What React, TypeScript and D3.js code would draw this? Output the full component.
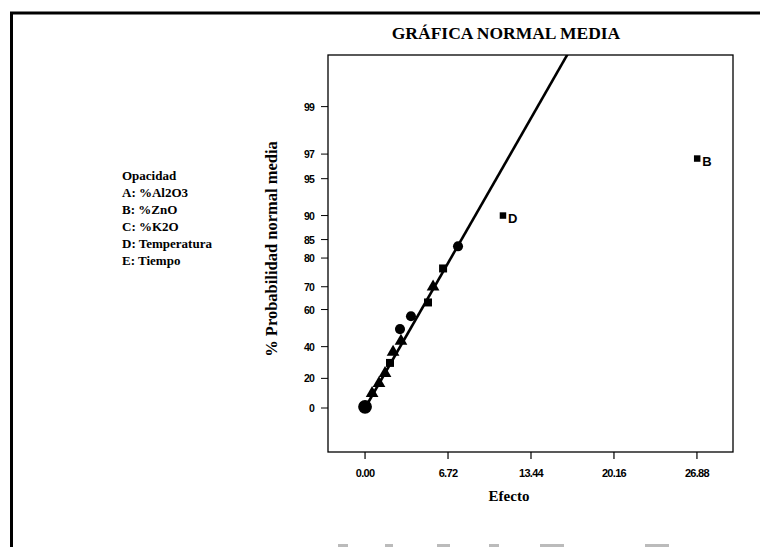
import React from "react";
import * as d3 from "d3";

// ---- data ----
const effects = [0.0, 0.57, 1.13, 1.62, 2.02, 2.27, 2.91, 2.83, 3.72, 5.1, 5.51, 6.32, 7.53, 11.17, 26.9];
const probs = [0.8, 10.0, 16.7, 23.3, 30.0, 36.7, 43.3, 50.0, 56.7, 63.3, 70.0, 76.7, 83.3, 90.0, 96.7];
const shapes = ["circle", "triangle", "triangle", "triangle", "square", "triangle", "triangle", "circle", "circle", "square", "triangle", "square", "circle", "square", "square"];
const pointLabels = ["", "", "", "", "", "", "", "", "", "", "", "", "", "D", "B"];
const lineEffects = [0, 16.4];
const lineProbs = [0, 99.75];
const xTicks = [0, 6.72, 13.44, 20.16, 26.88];
const yTicks = [0, 20, 40, 60, 70, 80, 85, 90, 95, 97, 99];
const legendLines = ["Opacidad", "A: %Al2O3", "B: %ZnO", "C: %K2O", "D: Temperatura", "E: Tiempo"];
const titleText = "GRÁFICA NORMAL MEDIA";
const xTitle = "Efecto";
const yTitle = "% Probabilidad normal media";
// faint scan marks along the bottom edge: [start x, width]
const bottomMarks = [[338, 10], [385, 8], [437, 13], [489, 10], [540, 24], [645, 24]];

// inverse standard normal CDF (Acklam)
function probit(p: number): number {
  const a = [-39.69683028665376, 220.9460984245205, -275.9285104469687, 138.357751867269, -30.66479806614716, 2.506628277459239];
  const b = [-54.47609879822406, 161.5858368580409, -155.6989798598866, 66.80131188771972, -13.28068155288572];
  const c = [-0.007784894002430293, -0.3223964580411365, -2.400758277161838, -2.549732539343734, 4.374664141464968, 2.938163982698783];
  const d = [0.007784695709041462, 0.3224671290700398, 2.445134137142996, 3.754408661907416];
  const pl = 0.02425;
  if (p < pl) {
    const q = Math.sqrt(-2 * Math.log(p));
    return (((((c[0] * q + c[1]) * q + c[2]) * q + c[3]) * q + c[4]) * q + c[5]) / ((((d[0] * q + d[1]) * q + d[2]) * q + d[3]) * q + 1);
  }
  if (p <= 1 - pl) {
    const q = p - 0.5;
    const r = q * q;
    return ((((((a[0] * r + a[1]) * r + a[2]) * r + a[3]) * r + a[4]) * r + a[5]) * q) / (((((b[0] * r + b[1]) * r + b[2]) * r + b[3]) * r + b[4]) * r + 1);
  }
  const q = Math.sqrt(-2 * Math.log(1 - p));
  return -(((((c[0] * q + c[1]) * q + c[2]) * q + c[3]) * q + c[4]) * q + c[5]) / ((((d[0] * q + d[1]) * q + d[2]) * q + d[3]) * q + 1);
}
const halfZ = (pct: number) => probit(0.5 + pct / 200);

const W = 760;
const H = 547;
const plot = { left: 328, right: 733, top: 55, bottom: 452 };

export default function App() {
  const x = d3.scaleLinear().domain([-3.0, 29.8]).range([plot.left, plot.right]);
  const yz = d3.scaleLinear().domain([-0.376, 3.017]).range([plot.bottom, plot.top]);
  const y = (pct: number) => yz(halfZ(pct));

  const lineGen = d3
    .line<number>()
    .x((_, i) => x(lineEffects[i]))
    .y((_, i) => y(lineProbs[i]));

  const serif = "'Liberation Serif', 'Times New Roman', serif";
  const sans = "'Liberation Sans', Arial, sans-serif";

  const symbolPath = (shape: string, i: number) => {
    if (shape === "triangle") return d3.symbol(d3.symbolTriangle, 70)()!;
    if (shape === "square") return d3.symbol(d3.symbolSquare, i >= 13 ? 42 : 64)()!;
    return d3.symbol(d3.symbolCircle, i === 0 ? 150 : 80)()!;
  };

  return (
    <svg
      width={W}
      height={H}
      viewBox={`0 0 ${W} ${H}`}
      style={{ position: "absolute", left: 0, top: 0, background: "#fff" }}
    >
      <defs>
        <clipPath id="plotClip">
          <rect x={plot.left} y={plot.top} width={plot.right - plot.left} height={plot.bottom - plot.top} />
        </clipPath>
      </defs>
      <rect x={0} y={0} width={W} height={H} fill="#fff" />
      {/* page frame */}
      <line x1={10} y1={13} x2={W} y2={13} stroke="#000" strokeWidth={3} />
      <line x1={11.5} y1={12} x2={11.5} y2={H} stroke="#000" strokeWidth={3} />
      {bottomMarks.map(([bx, bw], i) => (
        <rect key={i} x={bx} y={544} width={bw} height={3} fill="#bbb" />
      ))}

      {/* title */}
      <text x={506} y={39} textAnchor="middle" fontFamily={serif} fontWeight="bold" fontSize={17.5}>
        {titleText}
      </text>

      {/* legend */}
      {legendLines.map((t, i) => (
        <text key={t} x={122} y={180 + i * 17} fontFamily={serif} fontWeight="bold" fontSize={13}>
          {t}
        </text>
      ))}

      {/* plot frame */}
      <rect
        x={plot.left}
        y={plot.top}
        width={plot.right - plot.left}
        height={plot.bottom - plot.top}
        fill="none"
        stroke="#000"
        strokeWidth={1.3}
      />

      {/* y ticks */}
      {yTicks.map((t) => (
        <g key={t}>
          <line x1={plot.left - 7} x2={plot.left} y1={y(t)} y2={y(t)} stroke="#000" strokeWidth={1} />
          <text
            x={plot.left - 14}
            y={y(t) + 4}
            textAnchor="end"
            fontFamily={sans}
            fontWeight="bold"
            fontSize={10.5}
            letterSpacing={-0.8}
          >
            {t}
          </text>
        </g>
      ))}

      {/* x ticks */}
      {xTicks.map((t) => (
        <g key={t}>
          <line x1={x(t)} x2={x(t)} y1={plot.bottom} y2={plot.bottom + 7} stroke="#000" strokeWidth={1.2} />
          <text
            x={x(t)}
            y={plot.bottom + 25}
            textAnchor="middle"
            fontFamily={sans}
            fontWeight="bold"
            fontSize={11}
            letterSpacing={-0.7}
          >
            {t.toFixed(2)}
          </text>
        </g>
      ))}

      {/* axis titles */}
      <text x={509} y={501} textAnchor="middle" fontFamily={serif} fontWeight="bold" fontSize={15}>
        {xTitle}
      </text>
      <text
        transform={`translate(277, 249) rotate(-90)`}
        textAnchor="middle"
        fontFamily={serif}
        fontWeight="bold"
        fontSize={16.5}
      >
        {yTitle}
      </text>

      {/* fitted line */}
      <path
        d={lineGen(lineEffects) || ""}
        fill="none"
        stroke="#000"
        strokeWidth={2.6}
        clipPath="url(#plotClip)"
      />

      {/* points */}
      {effects.map((e, i) => (
        <g key={i} transform={`translate(${x(e)}, ${y(probs[i])})`}>
          <path d={symbolPath(shapes[i], i)} fill="#000" />
          {pointLabels[i] && (
            <text x={5} y={7} fontFamily={sans} fontSize={13} fontWeight="bold">
              {pointLabels[i]}
            </text>
          )}
        </g>
      ))}
    </svg>
  );
}
